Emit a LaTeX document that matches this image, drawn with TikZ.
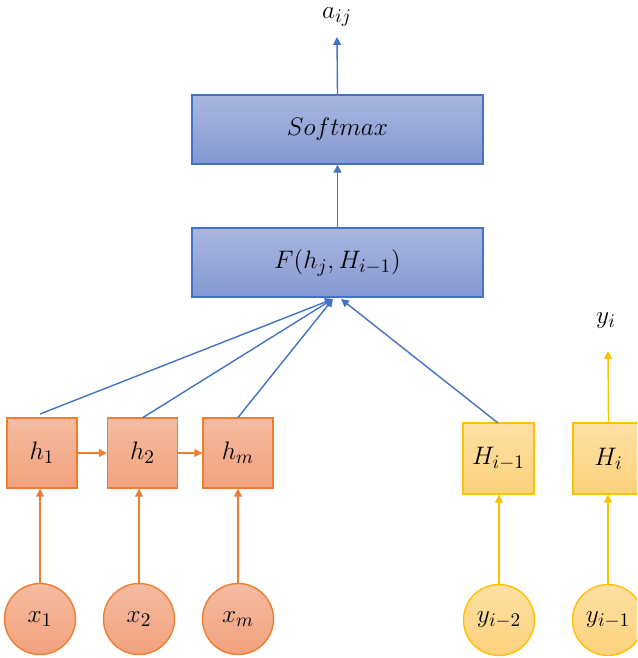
\documentclass[tikz,border=0pt]{standalone}
\usetikzlibrary{arrows.meta}
\definecolor{bluebd}{HTML}{4472C4}
\definecolor{bluetop}{HTML}{A9B6E0}
\definecolor{bluebot}{HTML}{8598D1}
\definecolor{orbd}{HTML}{ED7D31}
\definecolor{ortop}{HTML}{F5BBA0}
\definecolor{orbot}{HTML}{F2A27E}
\definecolor{ylbd}{HTML}{FFC000}
\definecolor{yltop}{HTML}{FFE0A3}
\definecolor{ylbot}{HTML}{FCD27D}
\tikzset{
  lbl/.style={font=\fontsize{15}{18}\selectfont},
  tip/.style={-{Triangle[width=4.5pt,length=4.5pt]}},
  bluebox/.style={lbl, draw=bluebd, line width=0.8pt, top color=bluetop, bottom color=bluebot, minimum width=291*0.02cm, minimum height=69*0.02cm, inner sep=0pt},
  orbox/.style={lbl, draw=orbd, line width=0.8pt, top color=ortop, bottom color=orbot, minimum width=70*0.02cm, minimum height=70*0.02cm, inner sep=0pt},
  orcirc/.style={lbl, circle, draw=orbd, line width=0.8pt, top color=ortop, bottom color=orbot, minimum size=71*0.02cm, inner sep=0pt},
  ylbox/.style={lbl, draw=ylbd, line width=0.8pt, top color=yltop, bottom color=ylbot, minimum width=71*0.02cm, minimum height=71*0.02cm, inner sep=0pt},
  ylcirc/.style={lbl, circle, draw=ylbd, line width=0.8pt, top color=yltop, bottom color=ylbot, minimum size=71*0.02cm, inner sep=0pt},
  bline/.style={draw=bluebd, line width=0.8pt, tip},
  oline/.style={draw=orbd, line width=0.8pt, tip},
  yline/.style={draw=ylbd, line width=0.8pt, tip},
}
\begin{document}
\begin{tikzpicture}[x=0.02cm,y=-0.02cm]
\useasboundingbox (0,0) rectangle (637,658);
\node[lbl, inner sep=0pt] (a) at (337,17) {$a_{ij}$};
\node[lbl, inner sep=0pt] (yi) at (606,321) {$y_i$};
\begin{scope}
\clip (0,0) rectangle (637,658);
% top
\node[bluebox] (soft) at (337.5,129.5) {$Softmax$};
\node[bluebox] (F) at (337.5,262.5) {$F(h_j,H_{i-1})$};
\coordinate (atip) at (337,37);
% orange
\node[orbox] (h1) at (42,453) {$h_1$};
\node[orbox] (h2) at (142.5,453) {$h_2$};
\node[orbox] (hm) at (238,453) {$h_m$};
\node[orcirc] (x1) at (40,619) {$x_1$};
\node[orcirc] (x2) at (139,619) {$x_2$};
\node[orcirc] (xm) at (238,619) {$x_m$};
% yellow
\node[ylbox] (Hp) at (498.5,458.5) {$H_{i-1}$};
\node[ylbox] (Hi) at (608.5,458.5) {$H_i$};
\node[ylcirc] (y2) at (499,620) {$y_{i-2}$};
\node[ylcirc] (y1) at (608,620) {$y_{i-1}$};
\coordinate (yitip) at (608,351);
% coordinates of line ends
\coordinate (Fin1) at (333,299);
\coordinate (Fin2) at (341,299);
\coordinate (h1s) at (40,414);
\coordinate (h2s) at (143,417.5);
\coordinate (hms) at (238,417.5);
\coordinate (Hps) at (498,423);
% connectors
\draw[bline] (F.north) -- (soft.south);
\draw[bline] (soft.north) -- (atip);
\draw[bline] (h1s) -- (Fin1);
\draw[bline] (h2s) -- (Fin1);
\draw[bline] (hms) -- (Fin1);
\draw[bline] (Hps) -- (Fin2);
\draw[oline] (h1) -- (h2);
\draw[oline] (h2) -- (hm);
\draw[oline] (x1.north) -- (x1.north |- h1.south);
\draw[oline] (x2.north) -- (x2.north |- h2.south);
\draw[oline] (xm.north) -- (xm.north |- hm.south);
\draw[yline] (y2.north) -- (y2.north |- Hp.south);
\draw[yline] (y1.north) -- (y1.north |- Hi.south);
\draw[yline] (Hi.north) -- (yitip);
\end{scope}
\end{tikzpicture}
\end{document}
